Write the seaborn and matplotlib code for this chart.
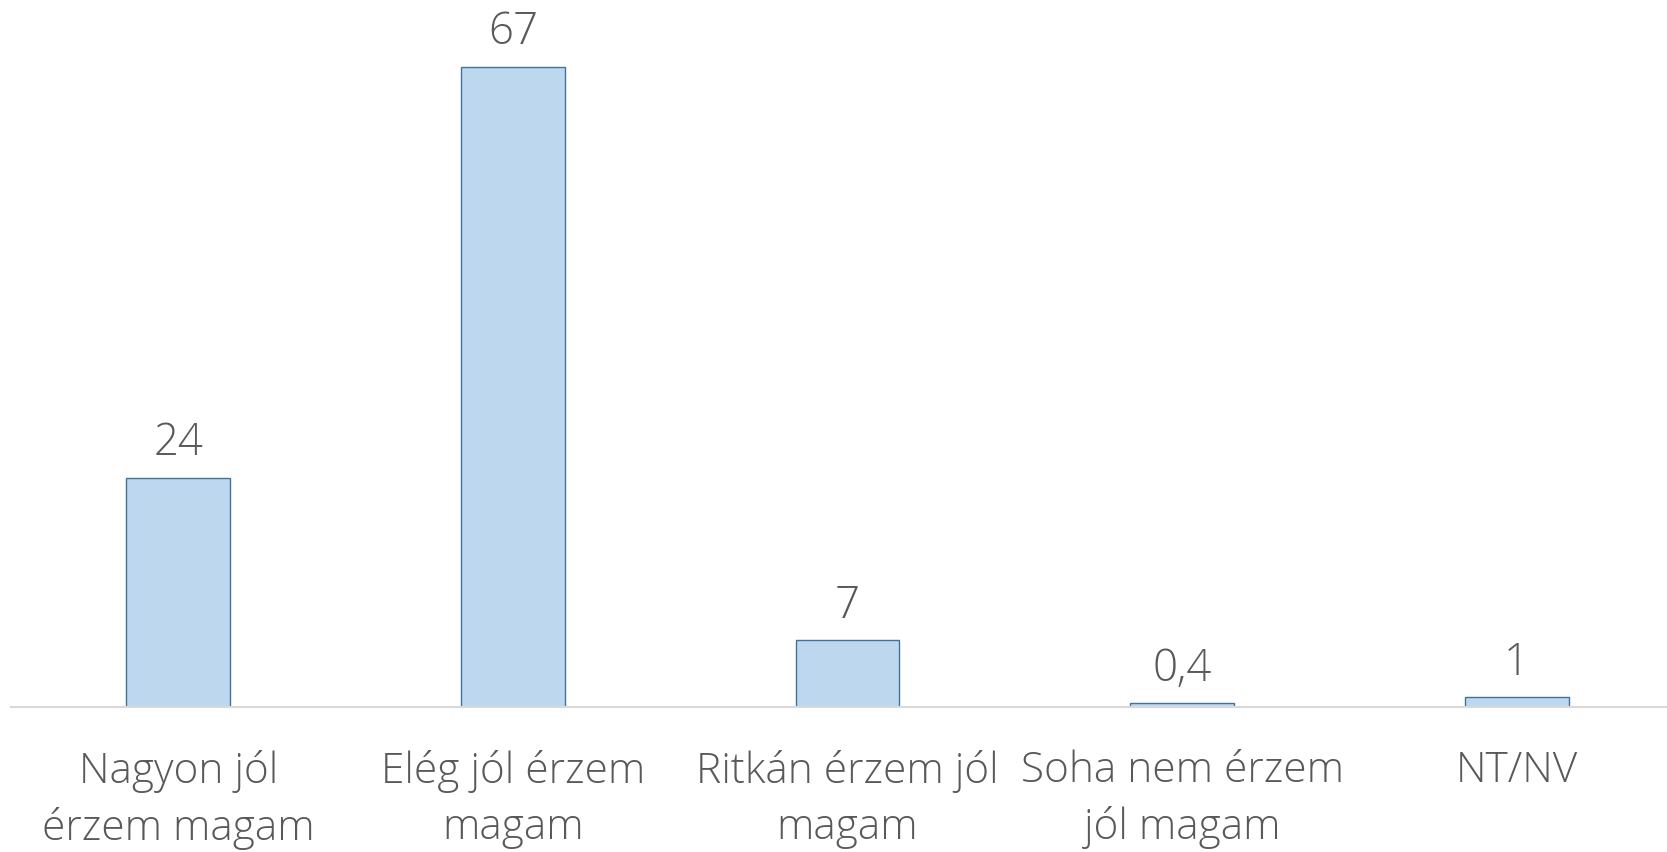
import matplotlib.pyplot as plt
import seaborn as sns
import pandas as pd

# Chart data
categories = ['Nagyon jól\nérzem magam', 'Elég jól érzem\nmagam', 'Ritkán érzem jól\nmagam',
              'Soha nem érzem\njól magam', 'NT/NV']
values = [24, 67, 7, 0.4, 1]
value_labels = ['24', '67', '7', '0,4', '1']

df = pd.DataFrame({'category': categories, 'value': values})

sns.set_style('white')
plt.rcParams['font.family'] = ['Open Sans', 'DejaVu Sans']

text_color = '#595959'

fig = plt.figure(figsize=(16.67, 8.53), dpi=100)
ax = fig.add_axes([11 / 1667, 145 / 853, 1673 / 1667, 708 / 853])

sns.barplot(data=df, x='category', y='value', ax=ax, color='#BDD7EE',
            edgecolor='#41719C', linewidth=1, width=0.31, saturation=1)

ax.set_xlim(-0.5, 4.5)
ax.set_ylim(0, 74.1)

# value labels above bars
for i, (v, lab) in enumerate(zip(values, value_labels)):
    ax.annotate(lab, (i, v), xytext=(0, 9), textcoords='offset points',
                ha='center', va='bottom', fontsize=31.5, color=text_color,
                fontweight='light')

ax.set_xlabel('')
ax.set_ylabel('')
ax.set_yticks([])
ax.tick_params(axis='x', length=0, pad=30, labelsize=30.5, labelcolor=text_color)
for lbl in ax.get_xticklabels():
    lbl.set_linespacing(1.42)
    lbl.set_fontweight('light')

for s in ['top', 'left', 'right']:
    ax.spines[s].set_visible(False)
ax.spines['bottom'].set_color('#D9D9D9')
ax.spines['bottom'].set_linewidth(1.5)

fig.savefig('out.png', dpi=100)
